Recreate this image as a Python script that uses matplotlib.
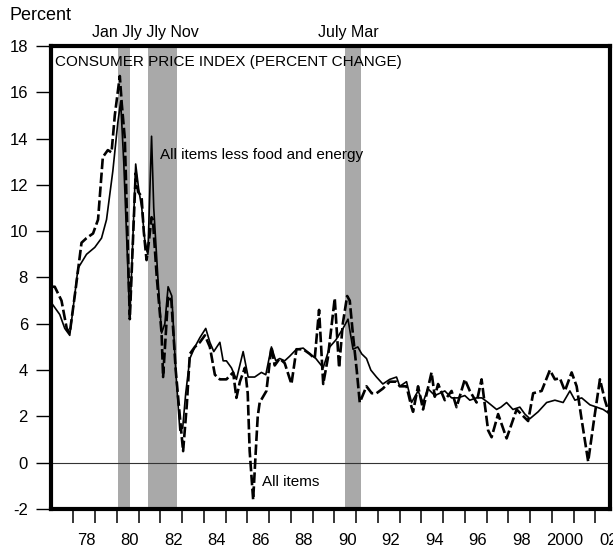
import numpy as np
import matplotlib
matplotlib.use('Agg')
import matplotlib.pyplot as plt
import matplotlib.transforms as mtransforms

plt.rcParams['font.family'] = ['Liberation Sans', 'DejaVu Sans']

#All items (dashed), decimal years and percent change
allYears = [1977.0, 1977.15, 1977.46, 1977.70, 1977.84, 1978.11, 1978.38, 1978.61, 1978.91, 1979.14,
            1979.36, 1979.59, 1979.76, 1979.91, 1980.14, 1980.23, 1980.37, 1980.60, 1980.74, 1980.87,
            1980.98, 1981.14, 1981.24, 1981.37, 1981.47, 1981.60, 1981.66, 1981.84, 1982.06, 1982.13,
            1982.25, 1982.36, 1982.51, 1982.71, 1982.90, 1983.05, 1983.22, 1983.36, 1983.59, 1983.82,
            1984.05, 1984.28, 1984.51, 1984.74, 1985.04, 1985.35, 1985.50, 1985.66, 1985.89, 1986.02,
            1986.11, 1986.27, 1986.39, 1986.48, 1986.57, 1986.88, 1987.11, 1987.26, 1987.49, 1987.72,
            1988.03, 1988.26, 1988.57, 1988.87, 1989.10, 1989.30, 1989.49, 1989.70, 1990.02, 1990.22,
            1990.39, 1990.59, 1990.71, 1990.86, 1991.03, 1991.17, 1991.48, 1991.72, 1991.94, 1992.23,
            1992.55, 1992.86, 1993.01, 1993.32, 1993.55, 1993.62, 1993.85, 1994.08, 1994.47, 1994.62,
            1994.77, 1995.08, 1995.39, 1995.62, 1996.00, 1996.23, 1996.54, 1996.77, 1997.07, 1997.23,
            1997.53, 1997.92, 1998.38, 1998.91, 1999.14, 1999.53, 1999.91, 2000.14, 2000.37, 2000.60,
            2000.91, 2001.14, 2001.38, 2001.67, 2001.93, 2002.21, 2002.44, 2002.67]
allItems = [7.6, 7.6, 7.0, 5.8, 5.6, 7.5, 9.5, 9.7, 9.9, 10.5,
            13.2, 13.5, 13.4, 15.0, 16.7, 15.5, 14.0, 6.2, 9.5, 12.5,
            11.7, 11.5, 10.0, 8.75, 9.5, 10.6, 10.5, 8.0, 5.6, 3.7,
            5.5, 7.2, 7.0, 4.0, 2.0, 0.5, 2.5, 4.7, 5.0, 5.2,
            5.5, 5.0, 3.8, 3.6, 3.6, 3.9, 2.8, 3.5, 4.1, 3.0,
            0.5, -1.6, 0.5, 2.0, 2.6, 3.1, 5.0, 4.2, 4.5, 4.3,
            3.4, 4.9, 4.9, 4.7, 4.5, 6.6, 3.4, 4.5, 7.1, 4.1,
            6.0, 7.2, 7.0, 5.5, 4.0, 2.6, 3.3, 3.0, 3.0, 3.2,
            3.5, 3.5, 3.3, 3.3, 2.4, 2.2, 3.3, 2.3, 3.9, 2.85,
            3.4, 2.7, 3.1, 2.4, 3.6, 3.1, 2.6, 3.6, 1.4, 1.1,
            2.1, 1.05, 2.3, 1.8, 3.0, 3.1, 4.0, 3.6, 3.65, 3.1,
            3.9, 3.3, 1.8, 0.05, 1.8, 3.6, 2.7, 2.0]

#All items less food and energy (solid)
coreYears = [1977.0, 1977.38, 1977.61, 1977.84, 1978.22, 1978.61, 1978.99, 1979.30, 1979.53, 1979.82,
             1980.05, 1980.18, 1980.32, 1980.60, 1980.87, 1981.01, 1981.15, 1981.29, 1981.43, 1981.60,
             1981.70, 1981.89, 1982.06, 1982.21, 1982.36, 1982.53, 1982.71, 1982.90, 1983.03, 1983.17,
             1983.36, 1983.59, 1983.82, 1984.09, 1984.28, 1984.46, 1984.74, 1984.89, 1985.04, 1985.27,
             1985.50, 1985.81, 1986.04, 1986.34, 1986.65, 1986.85, 1987.11, 1987.31, 1987.49, 1987.72,
             1987.95, 1988.26, 1988.57, 1988.87, 1989.15, 1989.49, 1989.79, 1990.07, 1990.40, 1990.63,
             1990.86, 1991.08, 1991.26, 1991.48, 1991.68, 1991.94, 1992.23, 1992.55, 1992.86, 1993.01,
             1993.32, 1993.55, 1993.85, 1994.08, 1994.30, 1994.62, 1994.85, 1995.08, 1995.39, 1995.68,
             1996.00, 1996.23, 1996.54, 1996.78, 1997.07, 1997.46, 1997.66, 1997.92, 1998.21, 1998.53,
             1998.76, 1998.99, 1999.37, 1999.76, 2000.14, 2000.52, 2000.83, 2001.06, 2001.37, 2001.75,
             2002.06, 2002.36, 2002.67]
coreItems = [6.9, 6.4, 5.8, 5.5, 8.4, 9.0, 9.3, 9.7, 10.5, 12.6,
             14.7, 15.6, 13.0, 6.2, 12.9, 11.8, 11.0, 9.6, 9.0, 14.1,
             11.0, 8.0, 5.6, 6.0, 7.6, 7.2, 4.0, 1.4, 1.5, 3.0,
             4.5, 5.0, 5.4, 5.8, 5.2, 4.8, 5.2, 4.4, 4.4, 4.1,
             3.6, 4.8, 3.7, 3.7, 3.9, 3.8, 5.0, 4.4, 4.5, 4.4,
             4.6, 4.9, 4.95, 4.7, 4.5, 4.1, 5.0, 5.3, 5.8, 6.2,
             4.9, 5.0, 4.7, 4.5, 4.0, 3.7, 3.4, 3.6, 3.7, 3.3,
             3.5, 2.6, 3.1, 2.6, 3.2, 2.9, 3.0, 3.1, 2.8, 2.8,
             2.9, 2.7, 2.8, 2.8, 2.6, 2.3, 2.4, 2.6, 2.3, 2.4,
             2.1, 1.9, 2.2, 2.6, 2.7, 2.6, 3.1, 2.7, 2.8, 2.5,
             2.4, 2.3, 2.1]

#Recessions (start, end)
recStart = [1980.05, 1981.45, 1990.5]
recEnd = [1980.6, 1982.75, 1991.25]

yearTicks = list(range(1978, 2003))
yearLabels = ['78', '80', '82', '84', '86', '88', '90', '92', '94', '96', '98', '2000', '02']
labelYears = list(range(1978, 2003, 2))

fig = plt.figure(figsize=(6.13, 5.5), dpi=100)
ax = fig.add_axes([0.084, 0.0745, 0.911, 0.842])

#shading
for i in range(len(recStart)):
    ax.axvspan(recStart[i], recEnd[i], color='#a9a9a9', lw=0, zorder=1)

ax.axhline(0, color='#333333', lw=0.8, zorder=2)
ax.plot(coreYears, coreItems, color='black', lw=1.2, zorder=3)
ax.plot(allYears, allItems, color='black', lw=1.9, dashes=(4, 1.3), zorder=4)

ax.set_xlim(1977.0, 2002.67)
ax.set_ylim(-2, 18)
ax.set_yticks(np.arange(-2, 19, 2))
ax.set_yticklabels([str(v) for v in range(-2, 19, 2)], fontsize=12)
ax.tick_params(axis='y', direction='out', length=11, width=1, pad=6)

#year ticks, labels in the middle of year
ax.set_xticks(yearTicks, minor=True)
ax.set_xticks([y + 0.6 for y in labelYears])
ax.set_xticklabels(yearLabels, fontsize=12)
ax.tick_params(axis='x', which='major', length=0, pad=17)
ax.tick_params(axis='x', which='minor', direction='out', length=10, width=1.1)

for s in ax.spines.values():
    s.set_linewidth(3)

trans = mtransforms.blended_transform_factory(ax.transData, ax.transAxes)
ax.text(1978.85, 1.028, 'Jan Jly Jly Nov', transform=trans, fontsize=11.5, va='center', ha='left')
ax.text(1989.24, 1.028, 'July Mar', transform=trans, fontsize=11.5, va='center', ha='left')
ax.text(1977.16, 0.965, 'CONSUMER PRICE INDEX (PERCENT CHANGE)', transform=trans, fontsize=11, va='center', ha='left', zorder=5)
ax.text(1981.98, 13.3, 'All items less food and energy', fontsize=11, va='center', ha='left', zorder=5)
ax.text(1986.67, -0.83, 'All items', fontsize=11, va='center', ha='left', zorder=5)
fig.text(0.016, 0.971, 'Percent', fontsize=13, va='center', ha='left')

plt.savefig('out.png', dpi=100)
